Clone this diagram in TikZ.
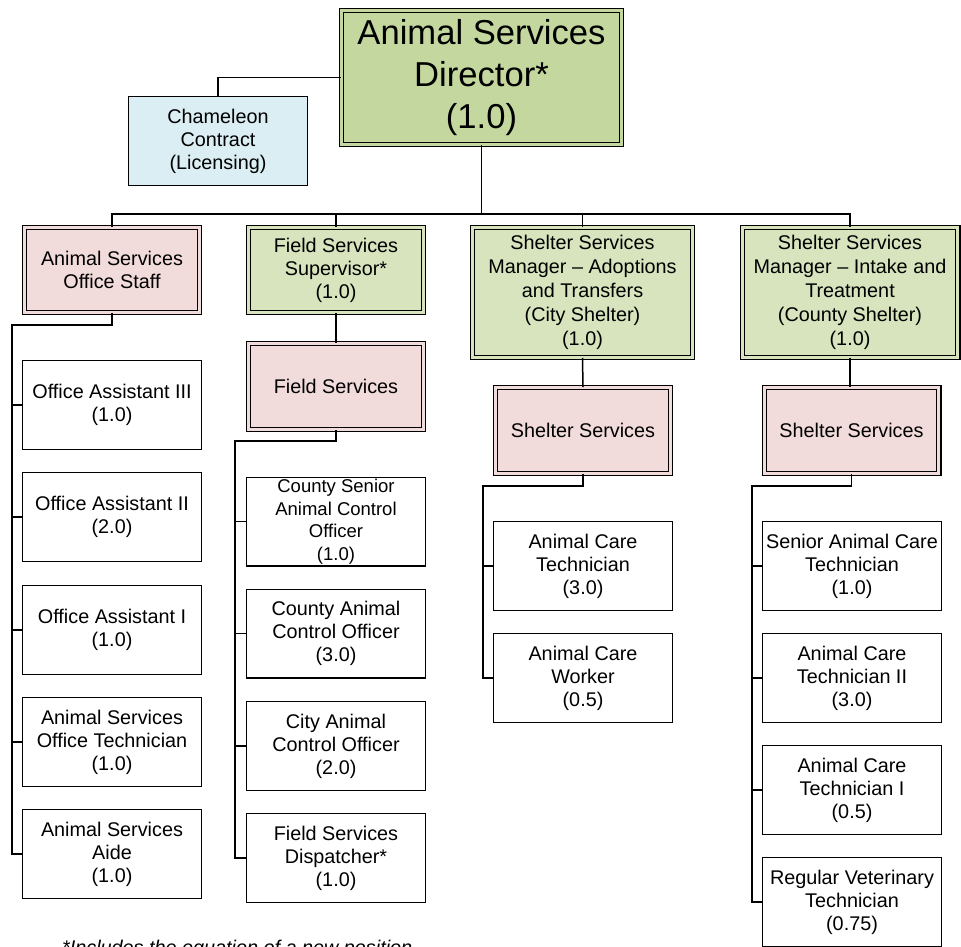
\documentclass[tikz,border=0pt]{standalone}
\usepackage{fontspec}
\setmainfont{Liberation Sans}
\definecolor{dirgrn}{RGB}{196,215,158}
\definecolor{mgrn}{RGB}{215,228,189}
\definecolor{mpink}{RGB}{242,220,219}
\definecolor{cblue}{RGB}{219,238,244}
\begin{document}
\begin{tikzpicture}[x=1pt,y=-1pt,
  base/.style={align=center, inner sep=0pt, text=black, font=\fontsize{19.8}{23}\selectfont},
  plainbox/.style={base, draw, line width=1.4pt, fill=white, minimum width=178.6pt, minimum height=88.6pt},
  dblbox/.style={base, draw, line width=1.3pt, double distance=2.8pt},
  dsz/.style 2 args={minimum width=#1pt-5.4pt, minimum height=#2pt-5.4pt},
  greenbox/.style={dblbox, fill=mgrn, double=mgrn},
  pinkbox/.style={dblbox, fill=mpink, double=mpink},
  conn/.style={draw, line width=1.5pt}]
\useasboundingbox (0,0) rectangle (961,946);
\clip (0,0) rectangle (961,946);

% top level
\node[dblbox, fill=dirgrn, double=dirgrn, dsz={285}{139},
      font=\fontsize{34.6}{42}\selectfont] (dir) at (481.5,77.5)
      {Animal Services\\Director*\\(1.0)};
\node[base, draw, line width=1.4pt, fill=cblue, minimum width=178.6pt, minimum height=88.6pt]
      (cham) at (218,141) {Chameleon\\Contract\\(Licensing)};

% second row
\node[pinkbox, dsz={180}{90}] (staff) at (112,270) {Animal Services\\Office Staff};
\node[greenbox, dsz={180}{90}] (fsup) at (336,270) {Field Services\\Supervisor*\\(1.0)};
\node[greenbox, dsz={225}{135}, font=\fontsize{19.8}{24}\selectfont] (mgrA) at (582.5,292.5)
      {Shelter Services\\Manager – Adoptions\\and Transfers\\(City Shelter)\\(1.0)};
\node[greenbox, dsz={221}{135}, font=\fontsize{19.8}{24}\selectfont] (mgrB) at (850,292.5)
      {Shelter Services\\Manager – Intake and\\Treatment\\(County Shelter)\\(1.0)};

% pink units
\node[pinkbox, dsz={180}{91}] (fs) at (336,386.5) {Field Services};
\node[pinkbox, dsz={180}{91}] (ssA) at (583,430.5) {Shelter Services};
\node[pinkbox, dsz={180}{91}] (ssB) at (851.5,430.5) {Shelter Services};

% office staff column
\node[plainbox] (oa3) at (112,405) {Office Assistant III\\(1.0)};
\node[plainbox] (oa2) at (112,517) {Office Assistant II\\(2.0)};
\node[plainbox] (oa1) at (112,630) {Office Assistant I\\(1.0)};
\node[plainbox] (asot) at (112,742) {Animal Services\\Office Technician\\(1.0)};
\node[plainbox] (aide) at (112,854) {Animal Services\\Aide\\(1.0)};

% field services column
\node[plainbox, font=\fontsize{18.5}{22.5}\selectfont] (csaco) at (336,521.5) {County Senior\\Animal Control\\Officer\\(1.0)};
\node[plainbox] (caco) at (336,633.5) {County Animal\\Control Officer\\(3.0)};
\node[plainbox] (city) at (336,746) {City Animal\\Control Officer\\(2.0)};
\node[plainbox] (fsd) at (336,858) {Field Services\\Dispatcher*\\(1.0)};

% shelter A column
\node[plainbox] (act) at (583,566) {Animal Care\\Technician\\(3.0)};
\node[plainbox] (acw) at (583,678) {Animal Care\\Worker\\(0.5)};

% shelter B column
\node[plainbox] (sact) at (852,566) {Senior Animal Care\\Technician\\(1.0)};
\node[plainbox] (act2) at (852,678) {Animal Care\\Technician II\\(3.0)};
\node[plainbox] (act1) at (852,790) {Animal Care\\Technician I\\(0.5)};
\node[plainbox] (rvt) at (852,902) {Regular Veterinary\\Technician\\(0.75)};

% footnote
\node[anchor=base west, inner sep=0pt, font=\fontsize{19.8}{23}\selectfont\itshape] (note) at (62,954)
      {*Includes the equation of a new position};

% connectors
\coordinate (bus) at (481.5,214);
\draw[conn] (cham.north) |- (dir.west);
\draw[conn] (dir.south) -- (bus);
\draw[conn] (staff.north) -- (staff.north |- bus) -- (mgrB.north |- bus) -- (mgrB.north);
\draw[conn] (fsup.north) -- (fsup.north |- bus);
\draw[conn] (mgrA.north) -- (mgrA.north |- bus);

\coordinate (oc) at (12,325);
\draw[conn] (staff.south) |- (oc) -- (oc |- aide.west) -- (aide.west);
\foreach \n in {oa3,oa2,oa1,asot} \draw[conn] (oc |- \n.west) -- (\n.west);

\draw[conn] (fsup.south) -- (fs.north);
\coordinate (fc) at (235,441);
\draw[conn] (fs.south) |- (fc) -- (fc |- fsd.west) -- (fsd.west);
\foreach \n in {csaco,caco,city} \draw[conn] (fc |- \n.west) -- (\n.west);

\draw[conn] (mgrA.south) -- (ssA.north);
\coordinate (sa) at (483,486);
\draw[conn] (ssA.south) |- (sa) -- (sa |- acw.west) -- (acw.west);
\draw[conn] (sa |- act.west) -- (act.west);

\draw[conn] (mgrB.south) -- (mgrB.south |- ssB.north);
\coordinate (sb) at (752,486);
\draw[conn] (ssB.south) |- (sb) -- (sb |- rvt.west) -- (rvt.west);
\foreach \n in {sact,act2,act1} \draw[conn] (sb |- \n.west) -- (\n.west);
\end{tikzpicture}
\end{document}
